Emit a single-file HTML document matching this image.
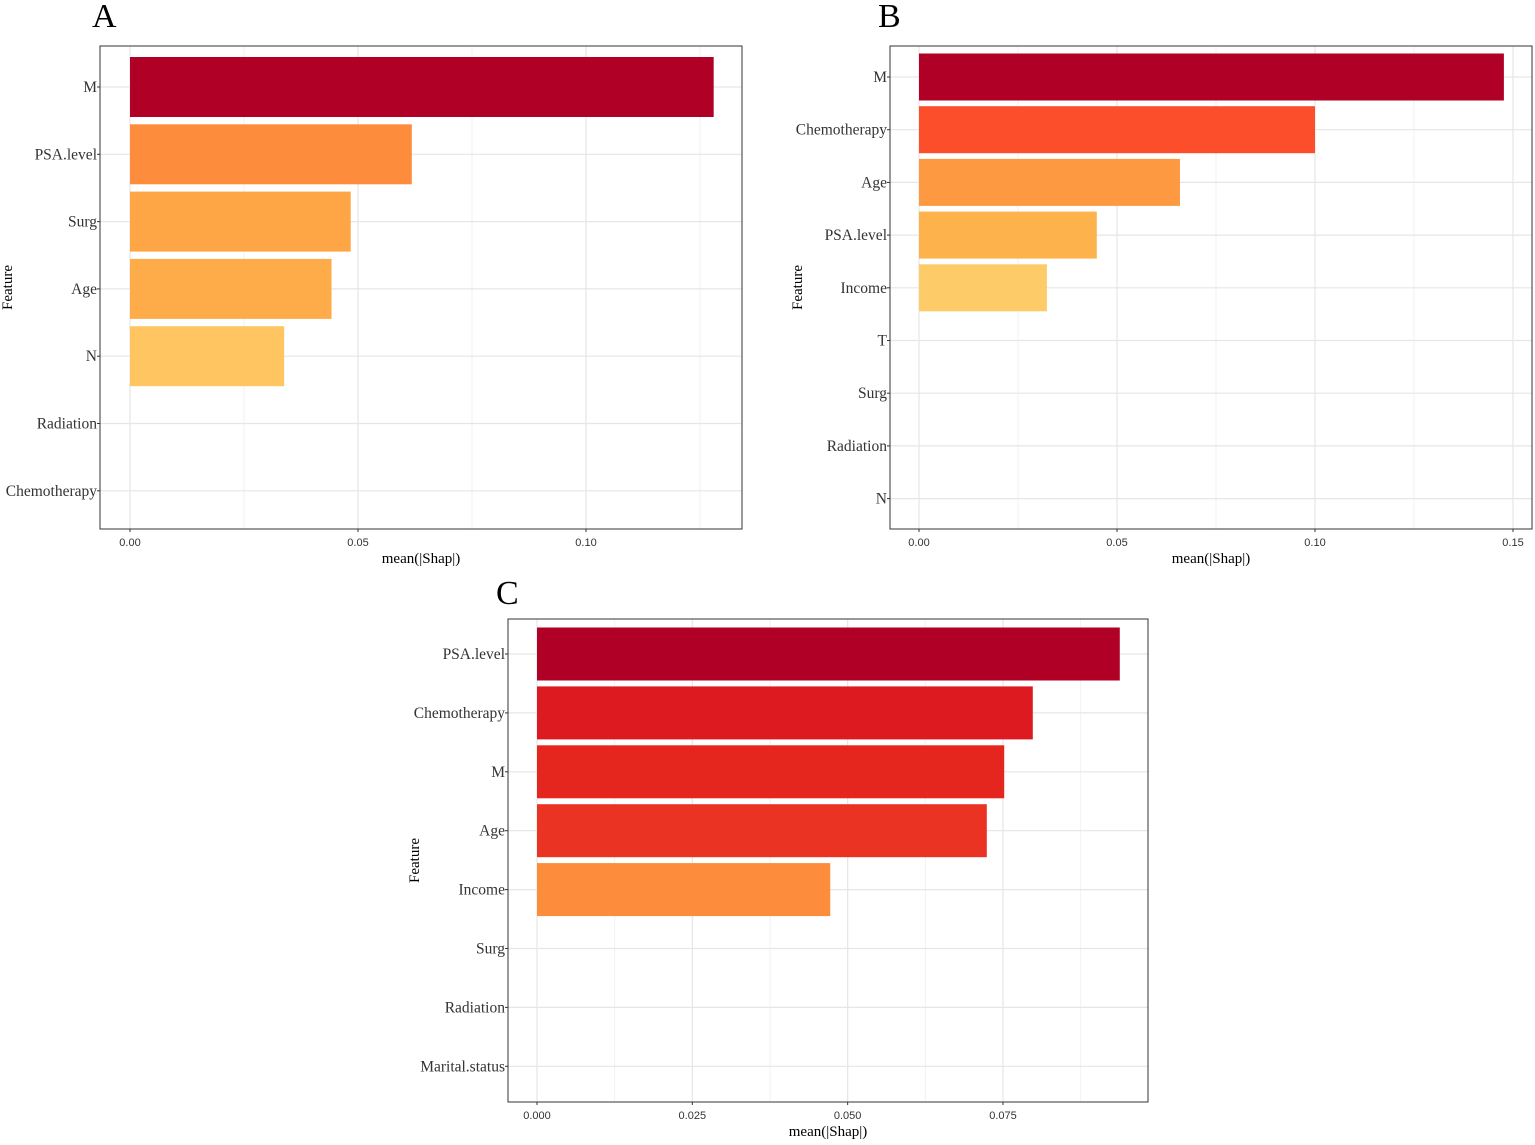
<!DOCTYPE html>
<html><head><meta charset="utf-8">
<style>
body{margin:0;background:#fff;}
svg text{font-family:"Liberation Serif",serif;}
.tick{font-family:"Liberation Sans",sans-serif;font-size:11px;fill:#333;}
</style></head>
<body>
<svg id="chart" width="1535" height="1140" xmlns="http://www.w3.org/2000/svg"></svg>
<script>
const featuresA = ["M","PSA.level","Surg","Age","N","Radiation","Chemotherapy"];
const valuesA = [0.128,0.0618,0.0484,0.0442,0.0338,0,0];
const colorsA = ["#b10026","#fd8d3c","#fea545","#feab4a","#fec561","#fff","#fff"];
const ticksA = [0,0.05,0.10];
const tickLabelsA = ["0.00","0.05","0.10"];

const featuresB = ["M","Chemotherapy","Age","PSA.level","Income","T","Surg","Radiation","N"];
const valuesB = [0.1477,0.100,0.0659,0.0449,0.0323,0,0,0,0];
const colorsB = ["#b10026","#fc4e2a","#fd9a41","#feb24c","#fecb69","#fff","#fff","#fff","#fff"];
const ticksB = [0,0.05,0.10,0.15];
const tickLabelsB = ["0.00","0.05","0.10","0.15"];

const featuresC = ["PSA.level","Chemotherapy","M","Age","Income","Surg","Radiation","Marital.status"];
const valuesC = [0.0938,0.0798,0.0752,0.0724,0.0472,0,0,0];
const colorsC = ["#b10026","#dc1a20","#e5261f","#ea3323","#fd8d3c","#fff","#fff","#fff"];
const ticksC = [0,0.025,0.05,0.075];
const tickLabelsC = ["0.000","0.025","0.050","0.075"];

const NS="http://www.w3.org/2000/svg";
const svg=document.getElementById("chart");
function mk(tag,attrs,parent){const e=document.createElementNS(NS,tag);for(const k in attrs)e.setAttribute(k,attrs[k]);(parent||svg).appendChild(e);return e;}

function panel(id,letter,box,x0px,pxPerUnit,rowTop,rowStep,barH,features,values,colors,ticks,tickLabels,letterPos,featTitleX){
  const g=mk("g",{});
  
  
  const xs=v=>x0px+v*pxPerUnit;
  const ys=i=>rowTop+i*rowStep;
  for(let i=0;i<ticks.length;i++){
    const step=ticks[1]-ticks[0];
    const mv=ticks[i]+step/2;
    if(xs(mv)<box.x+box.w) mk("line",{x1:xs(mv),x2:xs(mv),y1:box.y,y2:box.y+box.h,stroke:"#f2f2f2","stroke-width":1},g);
  }
  ticks.forEach(t=>{mk("line",{x1:xs(t),x2:xs(t),y1:box.y,y2:box.y+box.h,stroke:"#e6e6e6","stroke-width":1.2},g);});
  features.forEach((f,i)=>{mk("line",{x1:box.x,x2:box.x+box.w,y1:ys(i),y2:ys(i),stroke:"#e6e6e6","stroke-width":1.2},g);});
  features.forEach((f,i)=>{
    if(values[i]>0){
      const r=mk("rect",{x:xs(0),y:ys(i)-barH/2,width:xs(values[i])-xs(0),height:barH,fill:colors[i]},g);
      
      
    }
    const t=mk("text",{x:box.x-3,y:ys(i)+5,"text-anchor":"end","font-size":15.5,fill:"#333"},g);
    t.textContent=f;
    
    
    mk("line",{x1:box.x-3,x2:box.x,y1:ys(i),y2:ys(i),stroke:"#333"},g);
  });
  mk("rect",{x:box.x,y:box.y,width:box.w,height:box.h,fill:"none",stroke:"#333","stroke-width":1},g);
  ticks.forEach((t,i)=>{
    mk("line",{x1:xs(t),x2:xs(t),y1:box.y+box.h,y2:box.y+box.h+3,stroke:"#333"},g);
    const l=mk("text",{x:xs(t),y:box.y+box.h+17,"text-anchor":"middle",class:"tick"},g);
    l.textContent=tickLabels[i];
    
    
  });
  const xt=mk("text",{x:box.x+box.w/2,y:box.y+box.h+34,"text-anchor":"middle","font-size":15,fill:"#000"},g);
  xt.textContent="mean(|Shap|)";
  
  
  const cy=box.y+box.h/2;
  const yt=mk("text",{x:featTitleX,y:cy,"text-anchor":"middle","font-size":15,fill:"#000",transform:`rotate(-90 ${featTitleX} ${cy})`},g);
  yt.textContent="Feature";
  
  
  const lt=mk("text",{x:letterPos[0],y:letterPos[1],"font-size":34,fill:"#000"},g);
  lt.textContent=letter;
  
  
}
panel("a","A",{x:100,y:46,w:642,h:483},130,4560,87,67.3,60,featuresA,valuesA,colorsA,ticksA,tickLabelsA,[92,27],12);
panel("b","B",{x:890,y:46,w:642,h:483},919,3960,77,52.7,47,featuresB,valuesB,colorsB,ticksB,tickLabelsB,[878,27],802);
panel("c","C",{x:508,y:619,w:640,h:483},537,6213,654,58.9,53,featuresC,valuesC,colorsC,ticksC,tickLabelsC,[496,604],419);
</script>
</body></html>
